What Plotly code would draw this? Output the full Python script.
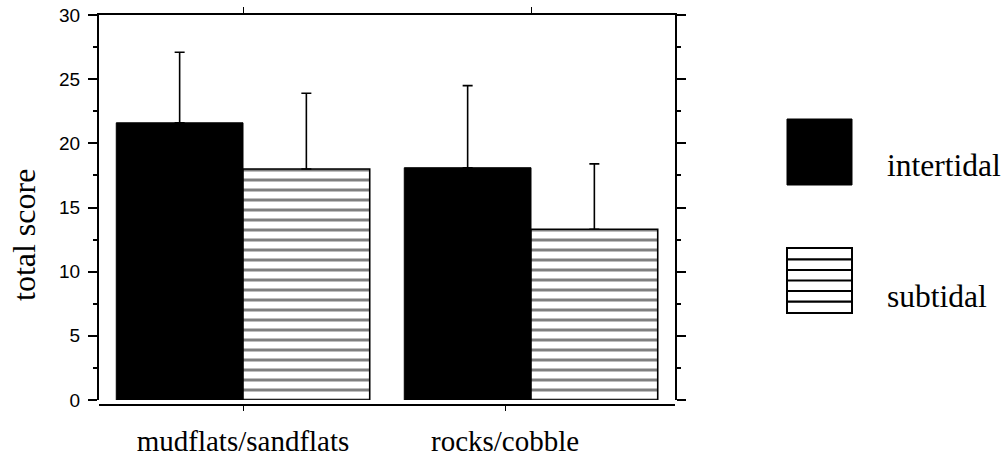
import plotly.graph_objects as go

# ---- data ----
categories = ["mudflats/sandflats", "rocks/cobble"]
intertidal = [21.6, 18.1]
intertidal_err = [5.5, 6.4]
subtidal = [18.0, 13.3]
subtidal_err = [5.9, 5.1]
y_ticks = [0, 5, 10, 15, 20, 25, 30]
label_pos = [0.0, 0.91]   # where the category labels sit on the x axis

xs = list(range(len(categories)))

W, H = 1005, 457
L, R, T, B = 99, 330, 15, 52
plot_h = H - T - B
ydom0 = 5 / plot_h

SERIF = "Liberation Serif, Times New Roman, serif"
SANS = "Liberation Sans, Arial, sans-serif"

fig = go.Figure()
fig.add_trace(go.Bar(
    x=xs, y=intertidal, name="intertidal",
    marker=dict(color="black", line=dict(color="black", width=1)),
    error_y=dict(type="data", symmetric=False, array=intertidal_err,
                 arrayminus=[0] * len(intertidal), color="black",
                 thickness=1.6, width=5),
))
fig.add_trace(go.Bar(
    x=xs, y=subtidal, name="subtidal",
    marker=dict(color="white", line=dict(color="black", width=1.6),
                pattern=dict(shape="-", size=10, solidity=0.3,
                             fgcolor="black", bgcolor="white", fillmode="overlay")),
    error_y=dict(type="data", symmetric=False, array=subtidal_err,
                 arrayminus=[0] * len(subtidal), color="black",
                 thickness=1.6, width=5),
))

# invisible trace to activate the top x axis
fig.add_trace(go.Scatter(x=xs, y=[None] * len(xs), xaxis="x2", showlegend=False,
                         hoverinfo="skip"))

fig.update_layout(
    template="none",
    width=W, height=H,
    margin=dict(l=L, r=R, t=T, b=B, autoexpand=False),
    paper_bgcolor="white", plot_bgcolor="white",
    barmode="group", bargap=0.12, bargroupgap=0,
    showlegend=False,
    xaxis=dict(
        range=[-0.5, len(categories) - 0.5],
        anchor="free", position=0, automargin=False,
        tickmode="array", tickvals=label_pos, ticktext=categories,
        ticks="outside", ticklen=5, tickwidth=1.2, tickcolor="black",
        showline=True, linecolor="black", linewidth=2,
        showgrid=False, zeroline=False,
        tickfont=dict(family=SERIF, size=29, color="black"),
        ticklabelstandoff=5,
    ),
    xaxis2=dict(
        range=[-0.5, len(categories) - 0.5],
        overlaying="x", side="top", anchor="y", automargin=False,
        tickmode="array", tickvals=xs, showticklabels=False,
        ticks="outside", ticklen=6, tickwidth=1.2, tickcolor="black",
        showline=True, linecolor="black", linewidth=2,
        showgrid=False, zeroline=False,
    ),
    yaxis=dict(
        domain=[ydom0, 1], automargin=False,
        range=[0, 30],
        tickmode="array", tickvals=y_ticks,
        ticks="outside", ticklen=9, tickwidth=1.6, tickcolor="black",
        minor=dict(dtick=2.5, ticks="outside", ticklen=4, tickwidth=1.6,
                   tickcolor="black", showgrid=False),
        showline=True, linecolor="black", linewidth=2, mirror="ticks",
        showgrid=False, zeroline=False,
        tickfont=dict(family=SANS, size=19, color="black"),
        ticklabelstandoff=4,
    ),
)

def px_x(p):
    return (p - L) / (W - L - R)

def px_y(p):
    return (H - B - p) / plot_h

# y-axis title
fig.add_annotation(text="total score", xref="paper", yref="paper",
                   x=px_x(24), y=px_y(235), textangle=-90, showarrow=False,
                   xanchor="center", yanchor="middle",
                   font=dict(family=SERIF, size=32, color="black"))

# legend swatches
x0, x1 = px_x(787), px_x(852)
fig.add_shape(type="rect", xref="paper", yref="paper",
              x0=x0, x1=x1, y0=px_y(185), y1=px_y(119),
              fillcolor="black", line=dict(color="black", width=1))
fig.add_shape(type="rect", xref="paper", yref="paper",
              x0=x0, x1=x1, y0=px_y(313), y1=px_y(248),
              fillcolor="white", line=dict(color="black", width=2))
for py in [259.3, 270, 280.5, 291, 301.7]:
    fig.add_shape(type="line", xref="paper", yref="paper",
                  x0=x0, x1=x1, y0=px_y(py), y1=px_y(py),
                  line=dict(color="black", width=2.2))

fig.add_annotation(text="intertidal", xref="paper", yref="paper",
                   x=px_x(885), y=px_y(166), showarrow=False,
                   xanchor="left", yanchor="middle",
                   font=dict(family=SERIF, size=31.5, color="black"))
fig.add_annotation(text="subtidal", xref="paper", yref="paper",
                   x=px_x(885), y=px_y(296), showarrow=False,
                   xanchor="left", yanchor="middle",
                   font=dict(family=SERIF, size=31.5, color="black"))

fig.write_html("out.html", config={"displayModeBar": False},
               post_script="document.body.style.margin='0';document.body.style.overflow='hidden';")
